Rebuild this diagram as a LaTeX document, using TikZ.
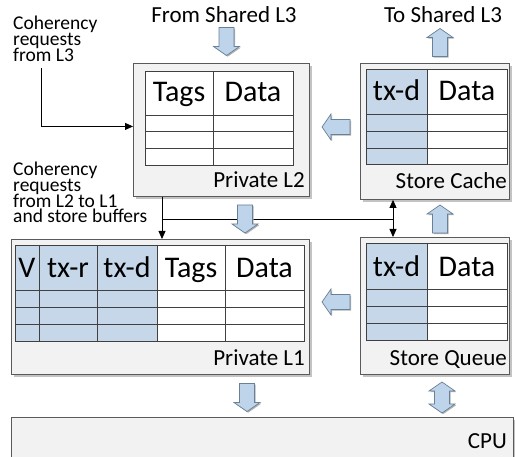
\documentclass[tikz,border=0pt]{standalone}
\usepackage{fontspec}
\setmainfont{Carlito}
\usetikzlibrary{arrows.meta,shadows}

\definecolor{boxfill}{RGB}{242,242,242}
\definecolor{boxline}{RGB}{90,90,90}
\definecolor{shade}{RGB}{195,195,195}
\definecolor{cellblue}{RGB}{197,215,233}
\definecolor{arrowfill}{RGB}{190,212,234}
\definecolor{arrowline}{RGB}{105,128,150}
\definecolor{gridline}{RGB}{64,64,64}

\tikzset{
  unitbox/.style={rectangle, draw=boxline, fill=boxfill, line width=0.9pt,
    inner sep=0pt, anchor=north west,
    drop shadow={shadow xshift=2.5pt, shadow yshift=-2.5pt, opacity=1, fill=shade}},
  unitname/.style={font=\fontsize{23}{26}\selectfont, inner sep=0pt, anchor=base east},
  heading/.style={font=\fontsize{23}{26}\selectfont, inner sep=0pt, anchor=base},
  cellhead/.style={font=\fontsize{30}{32}\selectfont, inner sep=0pt, anchor=base},
  note/.style={font=\fontsize{19.5}{15.6}\selectfont\setlength{\lineskiplimit}{-30pt},
    align=left, inner sep=0pt, anchor=base west},
  grid/.style={draw=gridline, line width=0.8pt},
  tablebed/.style={fill=white,
    drop shadow={shadow xshift=1.2pt, shadow yshift=-1.2pt, opacity=1, fill=gray!70}},
  tableframe/.style={draw=gridline, line width=0.9pt},
  signal/.style={draw=black, line width=0.8pt},
  tip/.style={-{Triangle[length=8pt,width=7pt]}},
  bothtips/.style={{Triangle[length=8pt,width=7pt]}-{Triangle[length=8pt,width=7pt]}},
  flow/.style={draw=arrowline, fill=arrowfill, line width=0.7pt, line join=miter,
    drop shadow={shadow xshift=1.2pt, shadow yshift=-1.2pt, opacity=1, fill=gray!60}},
  pics/blockarrow/.style={code={
    \path[flow] (-14,-7.5) -- (5,-7.5) -- (5,-13) -- (14,0) -- (5,13) -- (5,7.5)
      -- (-14,7.5) -- cycle;}},
  pics/twowayarrow/.style={code={
    \path[flow] (-15.5,0) -- (-6.5,-13) -- (-6.5,-7.5) -- (6.5,-7.5) -- (6.5,-13)
      -- (15.5,0) -- (6.5,13) -- (6.5,7.5) -- (-6.5,7.5) -- (-6.5,13) -- cycle;}}
}

\begin{document}
\begin{tikzpicture}[x=1pt, y=-1pt]
\useasboundingbox (0,0) rectangle (515,457);

% units
\node[unitbox, minimum width=176pt, minimum height=133pt] (l2) at (133,63) {};
\node[unitbox, minimum width=149pt, minimum height=136pt] (sc) at (360,63) {};
\node[unitbox, minimum width=298pt, minimum height=135pt] (l1) at (11,239) {};
\node[unitbox, minimum width=149pt, minimum height=137pt] (sq) at (360,237) {};
\node[unitbox, minimum width=502pt, minimum height=60pt] (cpu) at (11,417) {};

% Private L2 table
\path[tablebed] (145,71) rectangle (293,165);
\draw[grid] (213,71) -- (213,165);
\foreach \y in {115,131.7,148.3} \draw[grid] (145,\y) -- (293,\y);
\draw[tableframe] (145,71) rectangle (293,165);
\node[cellhead] (l2tags) at (179,102) {Tags};
\node[cellhead] (l2data) at (253,102) {Data};

% Store Cache table
\path[tablebed] (366,69) rectangle (507,164);
\fill[cellblue] (366,69) rectangle (427,164);
\draw[grid] (427,69) -- (427,164);
\foreach \y in {114,131,148} \draw[grid] (366,\y) -- (507,\y);
\draw[tableframe] (366,69) rectangle (507,164);
\node[cellhead] (sctxd) at (396.5,101) {tx-d};
\node[cellhead] (scdata) at (467,101) {Data};

% Private L1 table
\path[tablebed] (15,245) rectangle (304,341);
\fill[cellblue] (15,245) rectangle (157,341);
\foreach \x in {39,97,157,225} \draw[grid] (\x,245) -- (\x,341);
\foreach \y in {290,307,324} \draw[grid] (15,\y) -- (304,\y);
\draw[tableframe] (15,245) rectangle (304,341);
\node[cellhead] (l1v) at (27,278) {V};
\node[cellhead] (l1txr) at (68,278) {tx-r};
\node[cellhead] (l1txd) at (127,278) {tx-d};
\node[cellhead] (l1tags) at (191,278) {Tags};
\node[cellhead] (l1data) at (264.5,278) {Data};

% Store Queue table
\path[tablebed] (366,243) rectangle (507,340);
\fill[cellblue] (366,243) rectangle (427,340);
\draw[grid] (427,243) -- (427,340);
\foreach \y in {289,306,323} \draw[grid] (366,\y) -- (507,\y);
\draw[tableframe] (366,243) rectangle (507,340);
\node[cellhead] (sqtxd) at (396.5,277) {tx-d};
\node[cellhead] (sqdata) at (467,277) {Data};

% unit names
\node[unitname] (l2name) at (305,188) {Private L2};
\node[unitname] (scname) at (507,189) {Store Cache};
\node[unitname] (l1name) at (305,366) {Private L1};
\node[unitname] (sqname) at (507,366) {Store Queue};
\node[unitname] (cpuname) at (507,449) {CPU};

% headings and notes (anchored at the baseline of their last line)
\node[heading] (froml3) at (224,23) {From Shared L3};
\node[heading] (tol3) at (443,23) {To Shared L3};
\node[note] (cohl3) at (13,61.2) {Coherency\\requests\\from L3};
\node[note] (cohl2) at (13,222.7) {Coherency\\requests\\from L2 to L1\\and store buffers};

% coherency request lines
\coordinate (l3in) at (41,68);
\coordinate (tap) at (162,219);
\coordinate (sbus) at (393,219);
\draw[signal, tip] (l3in) |- ([yshift=3.5pt]l2.west);
\draw[signal] (tap) -- (sbus);
\draw[signal, tip] (l2.south -| tap) -- (l1.north -| tap);
\draw[signal, bothtips] (sc.south -| sbus) -- (sq.north -| sbus);

% data movement
\pic (inl3) at (226.5,41.5) [rotate=-90] {blockarrow};
\pic (outl3) at (440,42.5) [rotate=90] {blockarrow};
\pic (sctol2) at (336,127) [rotate=180] {blockarrow};
\pic (l2tol1) at (245,219) [rotate=-90] {blockarrow};
\pic (sqtosc) at (440,219) [rotate=90] {blockarrow};
\pic (sqtol1) at (336,302) [rotate=180] {blockarrow};
\pic (l1tocpu) at (247,397.5) [rotate=-90] {blockarrow};
\pic (sqcpu) at (442,397.5) [rotate=90] {twowayarrow};
\end{tikzpicture}
\end{document}
